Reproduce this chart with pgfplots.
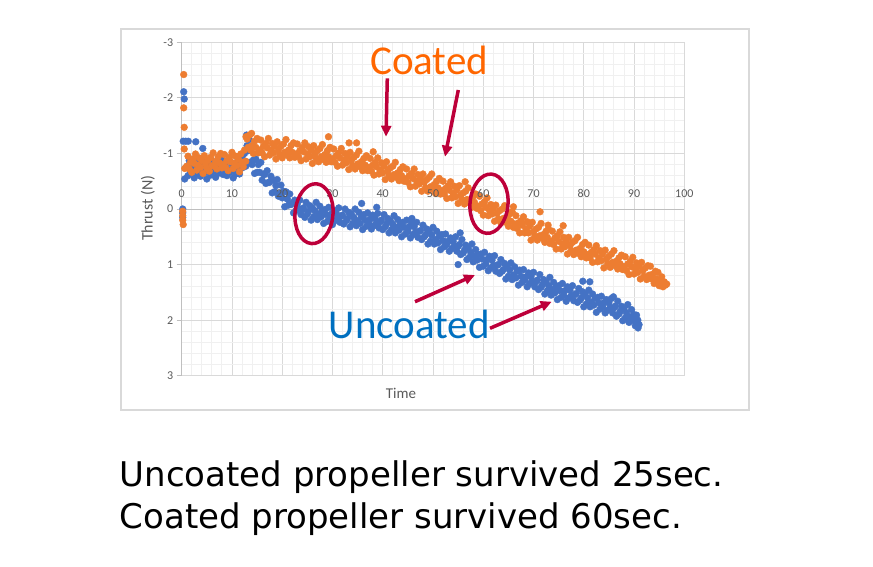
\documentclass[border=0pt]{standalone}
\usepackage{pgfplots}
\pgfplotsset{compat=1.18}
\usepackage{fontspec}
\usetikzlibrary{arrows.meta}
\setmainfont{Carlito}
\newfontfamily\notefont{DejaVu Sans}

\definecolor{coated}{RGB}{237,125,49}
\definecolor{uncoated}{RGB}{68,114,196}
\definecolor{annot}{RGB}{189,0,58}
\definecolor{txtorange}{RGB}{255,102,0}
\definecolor{txtblue}{RGB}{0,112,192}
\definecolor{majgrid}{RGB}{217,217,217}
\definecolor{mingrid}{RGB}{240,240,240}
\definecolor{axisgray}{RGB}{191,191,191}
\definecolor{ticktext}{RGB}{89,89,89}

\pgfplotsset{
  thrustframe/.style={
    at={(433pt,357pt)}, anchor=center,
    scale only axis, width=502.6pt, height=333.4pt,
    xmin=0, xmax=100, ymin=-3, ymax=3, y dir=reverse,
    xtick={0,10,...,100}, ytick={-3,-2,...,3},
    axis x line*=middle, axis y line*=left,
    hide obscured x ticks=false,
    major tick length=5pt, minor tick length=0pt,
    tick align=outside,
    xtick style={draw=none},
    tick label style={font=\fontsize{12}{12}\selectfont, text=ticktext},
    /pgf/number format/assume math mode=true,
    clip=false,
  },
}

\begin{document}
\begin{tikzpicture}[x=1pt,y=1pt]
\path[use as bounding box] (0,0) rectangle (873,566);
\draw[majgrid, line width=1.2pt] (121,156) rectangle (749,537);

\begin{axis}[
  thrustframe,
  minor x tick num=4, minor y tick num=4,
  grid=both,
  major grid style={draw=majgrid, line width=0.9pt},
  minor grid style={draw=mingrid, line width=0.9pt},
  axis line style={draw=axisgray, line width=1pt, -},
  tick style={draw=axisgray, line width=0.8pt},
  xticklabels={},
]
% Uncoated (blue), drawn first
\addplot[only marks, mark=*, color=uncoated, mark size=3.4pt, mark options={line width=0.4pt}] coordinates {
(0.4,-2.11)(0.5,-1.98)(0.3,-1.22)(0.8,-1.22)(1.3,-1.22)(2.8,-1.21)(4.2,-1.09)(0.6,-0.54)(0.2,0.00)(0.2,0.07)(0.2,0.15)
(1,-0.76)(1.25,-0.60)(1.5,-0.87)(1.75,-0.66)(2,-0.71)(2.25,-0.82)(2.5,-0.56)(2.75,-0.79)(3,-0.63)(3.25,-0.74)(3.5,-0.89)(3.75,-0.59)(4,-0.69)(4.25,-0.84)(4.5,-0.65)(4.75,-0.77)(5,-0.54)(5.25,-0.81)(5.5,-0.72)(5.75,-0.61)(6,-0.86)(6.25,-0.67)(6.5,-0.75)(6.75,-0.57)(7,-0.83)(7.25,-0.64)(7.5,-0.78)(7.75,-0.70)(8,-0.88)(8.25,-0.62)(8.5,-0.73)(8.75,-0.76)(9,-0.60)(9.25,-0.87)(9.5,-0.66)(9.75,-0.71)(10,-0.82)(10.25,-0.56)(10.5,-0.79)(10.75,-0.63)(11,-0.74)(11.25,-0.89)
(11.5,-0.63)(11.75,-0.73)(12,-0.94)(12.25,-0.75)(12.5,-1.00)(12.75,-0.77)(13,-1.14)(13.25,-1.05)(13.5,-0.84)(13.75,-1.09)(14,-0.80)(14.25,-0.88)(14.5,-0.64)(14.75,-0.90)(15,-0.66)(15.25,-0.80)(15.5,-0.66)(15.75,-0.84)(16,-0.52)(16.25,-0.63)
(16.5,-0.62)(16.75,-0.46)(17,-0.69)(17.25,-0.48)(17.5,-0.48)(17.75,-0.59)(18,-0.29)(18.25,-0.52)(18.5,-0.31)(18.75,-0.42)(19,-0.53)(19.25,-0.23)(19.5,-0.28)(19.75,-0.43)(20,-0.20)(20.25,-0.32)(20.5,-0.04)(20.75,-0.31)(21,-0.18)(21.25,-0.07)(21.5,-0.27)(21.75,-0.08)(22,-0.11)(22.25,0.07)(22.5,-0.16)(22.75,0.03)(23,-0.09)(23.25,-0.01)(23.5,-0.16)(23.75,0.10)(24,0.01)(24.25,-0.02)
(24.5,0.15)(24.75,-0.12)(25,0.09)(25.25,0.04)(25.5,-0.06)(25.75,0.20)(26,-0.02)(26.25,0.14)(26.5,0.03)(26.75,-0.12)(27,0.19)(27.25,0.09)(27.5,-0.05)(27.75,0.14)(28,0.03)(28.25,0.26)(28.5,0.01)(28.75,0.10)(29,0.22)(29.25,-0.03)(29.5,0.17)(29.75,0.09)(30,0.28)(30.25,0.02)
(30.5,0.21)(30.75,0.07)(31,0.16)(31.25,-0.02)(31.5,0.24)(31.75,0.13)(32,0.11)(32.25,0.27)(32.5,0.00)(32.75,0.21)(33,0.17)(33.25,0.06)(33.5,0.32)(33.75,0.09)(34,0.26)(34.25,0.15)(34.5,0.00)(34.75,0.30)(35,0.21)(35.25,0.06)
(35.5,0.26)(35.75,0.14)(36,0.37)(36.25,0.10)(36.5,0.20)(36.75,0.31)(37,0.07)(37.25,0.26)(37.5,0.18)(37.75,0.36)(38,0.11)(38.25,0.30)(38.5,0.17)(38.75,0.25)(39,0.08)(39.25,0.34)(39.5,0.23)(39.75,0.20)(40,0.37)(40.25,0.10)
(40.5,0.32)(40.75,0.27)(41,0.17)(41.25,0.43)(41.5,0.21)(41.75,0.37)(42,0.27)(42.25,0.12)(42.5,0.43)(42.75,0.33)(43,0.19)(43.25,0.38)(43.5,0.27)(43.75,0.50)(44,0.24)(44.25,0.33)(44.5,0.45)(44.75,0.20)(45,0.40)(45.25,0.32)
(45.5,0.52)(45.75,0.26)(46,0.46)(46.25,0.32)(46.5,0.42)(46.75,0.24)(47,0.51)(47.25,0.40)(47.5,0.39)(47.75,0.55)(48,0.29)(48.25,0.50)(48.5,0.47)(48.75,0.36)(49,0.63)(49.25,0.40)(49.5,0.58)(49.75,0.47)(50,0.33)(50.25,0.63)
(50.5,0.55)(50.75,0.40)(51,0.61)(51.25,0.49)(51.5,0.73)(51.75,0.46)(52,0.57)(52.25,0.68)(52.5,0.45)(52.75,0.64)(53,0.58)(53.25,0.76)(53.5,0.52)(53.75,0.71)(54,0.58)(54.25,0.66)(54.5,0.50)(54.75,0.76)(55,0.67)(55.25,0.64)
(55.5,0.82)(55.75,0.55)(56,0.79)(56.25,0.74)(56.5,0.65)(56.75,0.91)(57,0.71)(57.25,0.87)(57.5,0.78)(57.75,0.63)(58,0.95)(58.25,0.85)(58.5,0.73)(58.75,0.92)(59,0.82)(59.25,1.05)(59.5,0.81)(59.75,0.90)(60,1.03)(60.25,0.78)
(60.5,0.99)(60.75,0.91)(61,1.11)(61.25,0.85)(61.5,1.06)(61.75,0.92)(62,1.02)(62.25,0.84)(62.5,1.12)(62.75,1.01)(63,1.00)(63.25,1.16)(63.5,0.91)(63.75,1.12)(64,1.09)(64.25,0.98)(64.5,1.26)(64.75,1.03)(65,1.21)(65.25,1.10)
(65.5,0.97)(65.75,1.27)(66,1.19)(66.25,1.04)(66.5,1.24)(66.75,1.12)(67,1.37)(67.25,1.10)(67.5,1.21)(67.75,1.32)(68,1.09)(68.25,1.28)(68.5,1.22)(68.75,1.40)(69,1.15)(69.25,1.34)(69.5,1.22)(69.75,1.30)(70,1.14)(70.25,1.40)
(70.5,1.31)(70.75,1.28)(71,1.45)(71.25,1.18)(71.5,1.41)(71.75,1.36)(72,1.27)(72.25,1.53)(72.5,1.31)(72.75,1.47)(73,1.38)(73.25,1.23)(73.5,1.55)(73.75,1.45)(74,1.32)(74.25,1.51)(74.5,1.40)(74.75,1.63)(75,1.38)(75.25,1.47)
(75.5,1.59)(75.75,1.34)(76,1.55)(76.25,1.47)(76.5,1.66)(76.75,1.40)(77,1.60)(77.25,1.46)(77.5,1.56)(77.75,1.38)(78,1.65)(78.25,1.54)(78.5,1.52)(78.75,1.68)(79,1.43)(79.25,1.64)(79.5,1.60)(79.75,1.49)(80,1.76)(80.25,1.53)
(80.5,1.71)(80.75,1.60)(81,1.46)(81.25,1.76)(81.5,1.68)(81.75,1.53)(82,1.73)(82.25,1.61)(82.5,1.86)(82.75,1.59)(83,1.69)(83.25,1.80)(83.5,1.57)(83.75,1.76)(84,1.69)(84.25,1.87)(84.5,1.63)(84.75,1.82)(85,1.69)(85.25,1.77)
(85.5,1.61)(85.75,1.87)(86,1.78)(86.25,1.75)(86.5,1.93)(86.75,1.66)(87,1.89)(87.25,1.84)(87.5,1.75)(87.75,2.01)(88,1.80)(88.25,1.96)(88.5,1.87)(88.75,1.72)(89,2.04)(89.25,1.94)(89.5,1.81)(89.75,2.00)(90,1.90)(90.25,2.10)
(90.5,1.91)(90.75,2.00)(91,2.08)(90.8,2.14)
(12.9,-1.33)(13.4,-1.25)(35.8,-0.10)(38.8,-0.03)(45.8,0.17)(55.4,0.43)(55,1.00)(79.8,1.30)(81.2,1.31)(85.9,1.58)
};
% Coated (orange)
\addplot[only marks, mark=*, color=coated, mark size=3.4pt, mark options={line width=0.4pt}] coordinates {
(0.4,-2.42)(0.4,-1.82)(0.5,-1.47)(0.5,-1.08)(0.6,-0.73)(0.2,0.04)(0.2,0.12)(0.2,0.20)(0.3,0.28)
(1,-0.77)(1.25,-0.95)(1.5,-0.72)(1.75,-0.84)(2,-0.66)(2.25,-0.90)(2.5,-0.82)(2.75,-0.99)(3,-0.70)(3.25,-0.79)(3.5,-0.92)(3.75,-0.75)(4,-0.87)(4.25,-0.64)(4.5,-0.96)(4.75,-0.81)(5,-0.73)(5.25,-0.88)(5.5,-0.68)(5.75,-0.93)(6,-0.78)(6.25,-1.01)
(6.5,-0.77)(6.75,-0.86)(7,-0.72)(7.25,-0.94)(7.5,-0.83)(7.75,-1.00)(8,-0.74)(8.25,-0.80)(8.5,-0.98)(8.75,-0.75)(9,-0.87)(9.25,-0.69)(9.5,-0.93)(9.75,-0.85)(10,-1.02)(10.25,-0.73)(10.5,-0.82)(10.75,-0.95)(11,-0.78)(11.25,-0.90)(11.5,-0.67)(11.75,-0.99)(12,-0.84)(12.25,-0.76)
(12.5,-1.06)(12.75,-0.86)(13,-1.26)(13.25,-1.11)(13.5,-1.33)(13.75,-1.06)(14,-1.14)(14.25,-1.00)(14.5,-1.22)(14.75,-1.11)(15,-1.27)(15.25,-1.01)
(15.5,-1.06)(15.75,-1.24)(16,-1.01)(16.25,-1.13)(16.5,-0.94)(16.75,-1.18)(17,-1.10)(17.25,-1.27)(17.5,-0.97)(17.75,-1.06)(18,-1.18)(18.25,-1.01)(18.5,-1.13)(18.75,-0.90)(19,-1.21)(19.25,-1.06)(19.5,-0.98)(19.75,-1.13)(20,-0.92)(20.25,-1.17)
(20.5,-1.02)(20.75,-1.25)(21,-0.97)(21.25,-1.06)(21.5,-0.92)(21.75,-1.14)(22,-1.02)(22.25,-1.19)(22.5,-0.93)(22.75,-0.99)(23,-1.17)(23.25,-0.94)(23.5,-1.05)(23.75,-0.87)(24,-1.11)(24.25,-1.03)(24.5,-1.19)(24.75,-0.90)(25,-0.99)(25.25,-1.12)
(25.5,-0.94)(25.75,-1.06)(26,-0.82)(26.25,-1.14)(26.5,-0.99)(26.75,-0.91)(27,-1.05)(27.25,-0.85)(27.5,-1.09)(27.75,-0.94)(28,-1.16)(28.25,-0.89)(28.5,-0.98)(28.75,-0.84)(29,-1.05)(29.25,-0.94)(29.5,-1.11)(29.75,-0.85)(30,-0.90)(30.25,-1.08)
(30.5,-0.84)(30.75,-0.96)(31,-0.77)(31.25,-1.01)(31.5,-0.92)(31.75,-1.09)(32,-0.79)(32.25,-0.88)(32.5,-1.00)(32.75,-0.83)(33,-0.94)(33.25,-0.71)(33.5,-1.02)(33.75,-0.87)(34,-0.78)(34.25,-0.93)(34.5,-0.72)(34.75,-0.97)(35,-0.81)(35.25,-1.04)
(35.5,-0.76)(35.75,-0.85)(36,-0.69)(36.25,-0.91)(36.5,-0.79)(36.75,-0.96)(37,-0.69)(37.25,-0.75)(37.5,-0.91)(37.75,-0.68)(38,-0.79)(38.25,-0.61)(38.5,-0.84)(38.75,-0.76)(39,-0.92)(39.25,-0.63)(39.5,-0.70)(39.75,-0.83)(40,-0.65)(40.25,-0.77)
(40.5,-0.53)(40.75,-0.85)(41,-0.68)(41.25,-0.60)(41.5,-0.74)(41.75,-0.54)(42,-0.77)(42.25,-0.62)(42.5,-0.84)(42.75,-0.57)(43,-0.65)(43.25,-0.51)(43.5,-0.71)(43.75,-0.60)(44,-0.76)(44.25,-0.50)(44.5,-0.54)(44.75,-0.72)(45,-0.48)(45.25,-0.60)
(45.5,-0.40)(45.75,-0.64)(46,-0.55)(46.25,-0.72)(46.5,-0.41)(46.75,-0.50)(47,-0.62)(47.25,-0.45)(47.5,-0.55)(47.75,-0.32)(48,-0.63)(48.25,-0.48)(48.5,-0.38)(48.75,-0.53)(49,-0.32)(49.25,-0.57)(49.5,-0.40)(49.75,-0.63)(50,-0.35)(50.25,-0.44)
(50.5,-0.28)(50.75,-0.50)(51,-0.38)(51.25,-0.55)(51.5,-0.27)(51.75,-0.33)(52,-0.50)(52.25,-0.27)(52.5,-0.37)(52.75,-0.19)(53,-0.42)(53.25,-0.34)(53.5,-0.49)(53.75,-0.20)(54,-0.28)(54.25,-0.41)(54.5,-0.22)(54.75,-0.34)(55,-0.10)(55.25,-0.42)
(55.5,-0.25)(55.75,-0.17)(56,-0.29)(56.25,-0.09)(56.5,-0.32)(56.75,-0.17)(57,-0.38)(57.25,-0.11)(57.5,-0.17)(57.75,-0.03)(58,-0.23)(58.25,-0.12)(58.5,-0.27)(58.75,-0.01)(59,-0.05)(59.25,-0.23)(59.5,0.03)(59.75,-0.09)(60,0.11)(60.25,-0.13)
(60.5,-0.03)(60.75,-0.20)(61,0.12)(61.25,0.03)(61.5,-0.08)(61.75,0.09)(62,-0.01)(62.25,0.22)(62.5,-0.07)(62.75,0.08)(63,0.18)(63.25,0.03)(63.5,0.25)(63.75,0.00)(64,0.17)(64.25,-0.06)(64.5,0.24)(64.75,0.15)(65,0.31)(65.25,0.09)
(65.5,0.22)(65.75,0.05)(66,0.33)(66.25,0.27)(66.5,0.12)(66.75,0.35)(67,0.25)(67.25,0.43)(67.5,0.21)(67.75,0.29)(68,0.14)(68.25,0.43)(68.5,0.36)(68.75,0.23)(69,0.43)(69.25,0.31)(69.5,0.56)(69.75,0.24)(70,0.41)(70.25,0.49)
(70.5,0.36)(70.75,0.56)(71,0.33)(71.25,0.48)(71.5,0.26)(71.75,0.53)(72,0.46)(72.25,0.60)(72.5,0.40)(72.75,0.51)(73,0.36)(73.25,0.62)(73.5,0.58)(73.75,0.40)(74,0.64)(74.25,0.52)(74.5,0.72)(74.75,0.48)(75,0.58)(75.25,0.41)
(75.5,0.72)(75.75,0.63)(76,0.51)(76.25,0.68)(76.5,0.58)(76.75,0.81)(77,0.51)(77.25,0.66)(77.5,0.75)(77.75,0.60)(78,0.82)(78.25,0.57)(78.5,0.74)(78.75,0.51)(79,0.80)(79.25,0.71)(79.5,0.86)(79.75,0.64)(80,0.77)(80.25,0.60)
(80.5,0.88)(80.75,0.82)(81,0.65)(81.25,0.88)(81.5,0.78)(81.75,0.96)(82,0.73)(82.25,0.81)(82.5,0.66)(82.75,0.95)(83,0.88)(83.25,0.75)(83.5,0.93)(83.75,0.81)(84,1.06)(84.25,0.74)(84.5,0.90)(84.75,0.98)(85,0.85)(85.25,1.05)
(85.5,0.81)(85.75,0.96)(86,0.75)(86.25,1.02)(86.5,0.94)(86.75,1.08)(87,0.88)(87.25,0.99)(87.5,0.83)(87.75,1.09)(88,1.04)(88.25,0.86)(88.5,1.11)(88.75,0.99)(89,1.18)(89.25,0.94)(89.5,1.04)(89.75,0.87)(90,1.17)(90.25,1.08)
(90.5,0.97)(90.75,1.14)(91,1.03)(91.25,1.26)(91.5,0.96)(91.75,1.11)(92,1.21)(92.25,1.06)(92.5,1.27)(92.75,1.02)(93,1.19)(93.25,1.03)(93.5,1.26)(93.75,1.17)(94,1.34)(94.25,1.12)(94.5,1.26)(94.75,1.14)(95,1.38)(95.25,1.32)(95.5,1.22)(95.75,1.40)(96,1.31)(96.25,1.37)(96.5,1.35)
(29.2,-1.30)(33.3,-1.19)(34.8,-1.19)(38.1,-1.03)(56.4,-0.49)(66,-0.04)(71.3,0.05)(72.9,0.29)(75.9,0.30)(13.9,-1.36)(12.8,-1.30)
};
\end{axis}

% overlay axis: x tick labels drawn above the dots, as in the original
\begin{axis}[
  thrustframe,
  axis line style={draw=none},
  hide y axis,
  xticklabel style={yshift=28pt},
]
\addplot[draw=none, forget plot] coordinates {(0,0)(100,0)};
\end{axis}

% axis titles
\node[text=ticktext, font=\fontsize{16}{16}\selectfont, rotate=90] at (148,357.7) {Thrust (N)};
\node[text=ticktext, font=\fontsize{15}{15}\selectfont] at (401,173) {Time};

% annotations
\node[anchor=base west, inner sep=0, text=txtorange, font=\fontsize{41}{41}\selectfont] at (370,491) {Coated};
\node[anchor=base west, inner sep=0, text=txtblue, font=\fontsize{41}{41}\selectfont] at (328.5,227.7) {Uncoated};
\begin{scope}[annot, line width=3.5pt, -{Triangle[length=11pt,width=10pt]}]
\draw (387.3,487.7) -- (386,429.3);
\draw (458.3,476) -- (445,409.3);
\draw (415,264.3) -- (475,291);
\draw (490,237.7) -- (551.7,264.3);
\end{scope}
\draw[annot, line width=3.5pt, rotate around={-5:(314,352.3)}] (314,352.3) ellipse [x radius=19, y radius=30];
\draw[annot, line width=3.5pt, rotate around={-5:(489,362.3)}] (489,362.3) ellipse [x radius=19, y radius=29.7];

% caption below the chart
\node[anchor=base west, inner sep=0, font=\notefont\fontsize{34}{34}\selectfont] at (119.5,79.3) {Uncoated propeller survived 25sec.};
\node[anchor=base west, inner sep=0, font=\notefont\fontsize{34}{34}\selectfont] at (119.5,38) {Coated propeller survived 60sec.};
\end{tikzpicture}
\end{document}
